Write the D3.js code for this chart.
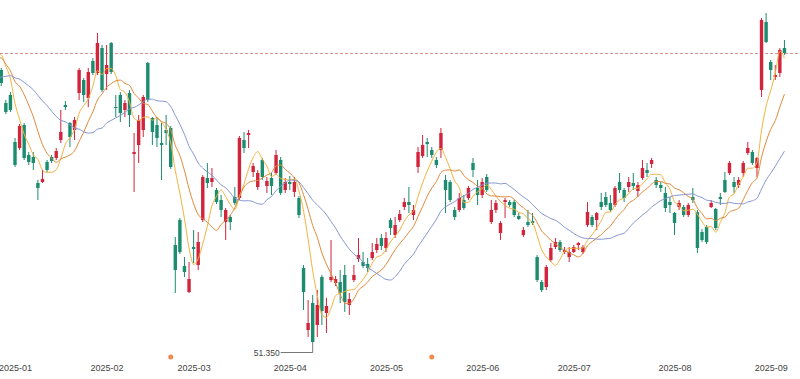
<!DOCTYPE html>
<html><head><meta charset="utf-8">
<script src="https://cdn.jsdelivr.net/npm/d3@7"></script>
<style>html,body{margin:0;padding:0;background:#fff}svg{display:block}</style>
</head><body>
<svg id="chart" width="800" height="379"></svg>
<script>
// Closes before the visible window (used only for moving averages)
const leadDates = ["2024-11-27","2024-11-29","2024-12-02","2024-12-03","2024-12-04","2024-12-05","2024-12-06","2024-12-09","2024-12-10","2024-12-11","2024-12-12","2024-12-13","2024-12-16","2024-12-17","2024-12-18","2024-12-19","2024-12-20","2024-12-23","2024-12-24","2024-12-26"];
const leadCloses = [73.15,73.15,73.15,73.65,75.65,76.15,76.65,77.15,78.15,78.65,78.15,80.65,81.15,80.15,77.65,78.15,80.15,80.85,81.45,80.95];

const dates = ["2024-12-27","2024-12-30","2024-12-31",
"2025-01-02","2025-01-03","2025-01-06","2025-01-07","2025-01-08","2025-01-10","2025-01-13","2025-01-14","2025-01-15","2025-01-16","2025-01-17","2025-01-21","2025-01-22","2025-01-23","2025-01-24","2025-01-27","2025-01-28","2025-01-29","2025-01-30","2025-01-31",
"2025-02-03","2025-02-04","2025-02-05","2025-02-06","2025-02-07","2025-02-10","2025-02-11","2025-02-12","2025-02-13","2025-02-14","2025-02-18","2025-02-19","2025-02-20","2025-02-21","2025-02-24","2025-02-25","2025-02-26","2025-02-27","2025-02-28",
"2025-03-03","2025-03-04","2025-03-05","2025-03-06","2025-03-07","2025-03-10","2025-03-11","2025-03-12","2025-03-13","2025-03-14","2025-03-17","2025-03-18","2025-03-19","2025-03-20","2025-03-21","2025-03-24","2025-03-25","2025-03-26","2025-03-27","2025-03-28","2025-03-31",
"2025-04-01","2025-04-02","2025-04-03","2025-04-04","2025-04-07","2025-04-08","2025-04-09","2025-04-10","2025-04-11","2025-04-14","2025-04-15","2025-04-16","2025-04-17","2025-04-21","2025-04-22","2025-04-23","2025-04-24","2025-04-25","2025-04-28","2025-04-29","2025-04-30",
"2025-05-01","2025-05-02","2025-05-05","2025-05-06","2025-05-07","2025-05-08","2025-05-09","2025-05-12","2025-05-13","2025-05-14","2025-05-15","2025-05-16","2025-05-19","2025-05-20","2025-05-21","2025-05-22","2025-05-23","2025-05-27","2025-05-28","2025-05-29","2025-05-30",
"2025-06-02","2025-06-03","2025-06-04","2025-06-05","2025-06-06","2025-06-09","2025-06-10","2025-06-11","2025-06-12","2025-06-13","2025-06-16","2025-06-17","2025-06-18","2025-06-20","2025-06-23","2025-06-24","2025-06-25","2025-06-26","2025-06-27","2025-06-30",
"2025-07-01","2025-07-02","2025-07-03","2025-07-07","2025-07-08","2025-07-09","2025-07-10","2025-07-11","2025-07-14","2025-07-15","2025-07-16","2025-07-17","2025-07-18","2025-07-21","2025-07-22","2025-07-23","2025-07-24","2025-07-25","2025-07-28","2025-07-29","2025-07-30","2025-07-31",
"2025-08-01","2025-08-04","2025-08-05","2025-08-06","2025-08-07","2025-08-08","2025-08-11","2025-08-12","2025-08-13","2025-08-14","2025-08-15","2025-08-18","2025-08-19","2025-08-20","2025-08-21","2025-08-22","2025-08-25","2025-08-26","2025-08-27","2025-08-28","2025-08-29",
"2025-09-02","2025-09-03","2025-09-04","2025-09-05"];

const opens = [78.65,75.35,76.15,71.45,70.85,73.15,70.15,69.95,67.35,67.45,
69.45,69.95,69.85,71.65,75.15,73.35,72.65,76.35,77.65,75.85,
79.55,78.35,80.85,78.25,81.35,74.95,76.15,74.65,76.35,70.25,
71.15,72.65,79.35,73.85,73.15,71.35,72.65,72.85,61.15,63.65,
59.05,56.45,60.95,59.15,63.65,67.85,67.45,66.65,65.65,63.45,
63.95,65.95,65.85,71.65,72.15,68.45,66.95,69.65,67.05,67.85,
68.35,69.65,66.65,67.45,66.45,65.85,58.85,52.65,55.35,53.15,
57.95,54.35,57.65,57.35,57.45,58.15,55.15,57.65,59.75,59.45,
59.25,59.85,60.65,61.85,60.85,63.65,62.15,63.65,64.95,65.45,
64.15,68.95,70.05,71.45,70.65,69.65,70.65,67.65,67.45,64.65,
64.65,65.65,65.85,69.35,66.85,66.15,67.95,63.45,64.65,62.35,
65.45,65.45,65.45,64.05,62.15,63.45,63.55,59.95,57.45,56.95,
59.65,60.95,61.45,60.45,59.95,60.45,61.15,60.45,63.15,63.95,
63.65,65.45,65.95,65.35,65.15,67.45,66.65,66.95,67.35,66.55,
67.85,68.65,69.25,67.65,67.15,66.35,65.45,64.35,64.95,64.95,
64.15,65.95,64.45,62.45,62.95,64.95,64.75,65.95,67.65,68.35,
67.45,67.15,68.35,70.35,70.45,68.85,76.65,83.45,79.45,77.95,
78.35,80.85];

const closes = [77.35,74.45,74.65,69.15,73.05,69.85,69.45,69.35,66.85,67.75,
68.65,69.55,70.55,72.45,74.95,71.95,73.65,78.65,76.15,78.45,
78.35,81.35,76.65,79.15,78.45,74.85,74.35,75.35,74.15,70.45,
73.65,75.95,75.65,72.45,71.85,71.15,72.35,68.95,58.65,60.45,
58.45,57.75,60.75,61.45,67.95,67.35,67.85,65.45,64.65,64.65,
63.45,65.35,71.85,70.85,72.35,69.05,68.35,67.95,67.55,67.05,
70.15,66.35,67.45,67.25,67.45,64.15,56.45,53.35,51.45,55.15,
54.55,55.05,57.95,57.75,56.35,55.45,55.75,58.15,60.15,59.05,
58.85,60.45,61.25,61.05,61.85,62.85,63.15,64.25,65.45,65.15,
64.65,70.45,71.15,71.25,70.15,69.15,72.35,66.65,65.65,63.95,
65.85,64.85,66.85,68.65,66.15,67.45,66.65,64.65,65.35,63.35,
65.65,65.15,64.15,63.75,62.65,63.15,63.35,57.65,56.65,58.95,
60.85,61.45,60.65,60.65,60.45,60.95,61.35,60.95,64.45,63.15,
64.35,64.95,65.15,64.65,66.85,66.65,65.85,67.45,67.05,67.15,
68.85,68.35,69.65,67.15,66.85,64.85,65.15,63.35,65.35,64.15,
65.15,65.65,60.85,61.65,61.45,65.35,62.85,65.75,66.45,69.35,
66.95,67.65,69.35,70.85,69.35,69.85,83.65,81.45,78.65,78.15,
80.65,80.35];

const highs = [78.85,75.65,76.45,71.85,73.25,73.35,70.45,70.45,67.65,68.65,
69.65,70.15,70.85,74.65,75.55,73.45,73.95,78.85,77.85,78.85,
79.85,82.35,81.15,81.15,81.45,76.15,76.45,75.65,76.65,72.35,
74.15,76.15,79.45,73.95,73.85,73.35,74.15,73.05,61.95,63.85,
59.95,59.45,62.65,62.45,68.15,69.35,68.85,66.85,66.15,64.85,
64.15,66.95,72.05,72.45,72.65,69.35,68.65,69.85,67.95,68.35,
70.65,69.95,67.85,68.05,67.95,66.05,59.15,55.65,56.15,56.65,
58.15,55.85,61.65,58.05,58.65,59.15,56.35,59.15,61.85,60.45,
59.85,61.35,61.85,62.25,62.45,63.85,63.95,64.65,65.85,66.95,
65.15,70.95,72.15,71.85,70.95,69.95,72.85,68.15,67.65,64.95,
66.35,66.15,67.05,69.85,67.65,67.85,68.25,65.65,65.65,63.55,
65.85,65.65,65.65,64.35,62.95,64.65,64.35,60.15,57.65,59.15,
61.35,61.85,61.65,60.95,60.95,61.15,61.45,61.15,65.45,64.15,
64.45,66.35,66.45,66.15,67.05,68.35,66.85,67.95,68.35,67.45,
69.65,69.35,69.85,67.95,67.45,66.95,65.95,64.45,65.65,65.15,
65.35,66.85,64.65,62.75,63.15,65.65,64.85,66.35,68.45,69.55,
67.95,67.95,69.55,71.45,70.65,69.95,83.85,84.35,79.65,79.15,
80.85,81.65];

const lows = [77.05,74.25,74.45,68.95,70.65,69.65,69.15,68.65,65.65,67.35,
68.45,69.35,69.65,71.35,74.65,70.95,71.65,75.65,75.45,74.95,
78.15,78.15,76.45,76.65,78.25,73.95,73.45,73.95,72.95,66.45,
69.35,71.95,75.45,71.15,70.95,67.65,71.15,68.75,56.35,60.25,
57.95,56.35,59.35,58.65,63.45,66.85,66.95,65.25,63.95,61.65,
62.65,65.15,65.65,70.35,70.85,67.95,66.65,67.65,66.35,66.15,
68.15,66.15,66.35,66.65,65.95,63.85,54.65,51.95,51.35,51.95,
53.15,52.35,57.45,57.05,55.35,54.45,54.15,57.45,59.45,58.85,
58.45,59.65,60.35,60.65,60.45,62.15,61.85,63.45,64.65,64.35,
63.65,68.35,69.85,69.95,69.85,68.85,69.85,64.35,65.45,63.65,
64.45,64.65,65.65,67.95,65.15,65.85,66.45,63.25,64.35,61.65,
63.85,64.95,63.95,63.65,61.95,62.95,63.15,57.45,56.45,56.65,
59.45,60.75,60.45,60.25,59.45,60.35,60.65,60.25,62.95,62.95,
62.65,64.65,64.95,64.45,64.95,66.35,65.45,66.45,66.65,65.95,
67.65,67.95,68.85,66.85,66.45,64.45,64.35,62.15,64.65,63.95,
63.95,65.35,60.35,61.45,61.25,64.85,62.65,65.15,66.35,68.15,
66.35,66.85,67.95,70.15,69.15,67.95,75.95,81.35,77.65,77.65,
77.95,80.15];

const maPeriods = [5, 10, 20];
const maColors = ["#f3b33f", "#e0893a", "#8597d2"];
const tickDates = ["2025-01-02","2025-02-03","2025-03-03","2025-04-01","2025-05-01","2025-06-02","2025-07-01","2025-08-01","2025-09-02"];
const tickLabels = ["2025-01","2025-02","2025-03","2025-04","2025-05","2025-06","2025-07","2025-08","2025-09"];
const eventDates = ["2025-02-24","2025-05-15"];

const W = 800, H = 379;
const svg = d3.select("#chart");
const allDates = leadDates.concat(dates);
const allCloses = leadCloses.concat(closes);
const lead = leadDates.length;
const step = 4.58;
const firstX = 1.26;
const x = d3.scalePoint().domain(allDates)
  .range([firstX - lead * step, firstX + (dates.length - 1) * step]);
const y = d3.scaleLinear().domain([51.35, 85.65]).range([343, 0]);

const upColor = "#d2243b", downColor = "#1b8c6d";

svg.append("defs").append("clipPath").attr("id", "clip")
  .append("rect").attr("x", 0).attr("y", 0).attr("width", W).attr("height", 362);
const plot = svg.append("g").attr("clip-path", "url(#clip)");

// latest close dashed line
const lastClose = closes[closes.length - 1];
plot.append("line").attr("x1", 0).attr("x2", W)
  .attr("y1", Math.round(y(lastClose)) + 0.5).attr("y2", Math.round(y(lastClose)) + 0.5)
  .attr("stroke", "#d99494").attr("stroke-width", 1).attr("stroke-dasharray", "3,2");

// candles
const data = dates.map((d, i) => ({d, o: opens[i], c: closes[i], h: highs[i], l: lows[i]}));
const bw = 3.4;
const cg = plot.append("g");
data.forEach(k => {
  const col = k.c >= k.o ? upColor : downColor;
  const cx = x(k.d);
  cg.append("line").attr("x1", cx).attr("x2", cx).attr("y1", y(k.h)).attr("y2", y(k.l))
    .attr("stroke", col).attr("stroke-width", 1);
  const top = y(Math.max(k.o, k.c)), bot = y(Math.min(k.o, k.c));
  cg.append("rect").attr("x", cx - bw / 2).attr("y", top).attr("width", bw)
    .attr("height", Math.max(1, bot - top)).attr("fill", col);
});

// moving averages
maPeriods.forEach((p, j) => {
  const pts = [];
  for (let k = p - 1; k < allCloses.length; k++) {
    if (k < lead - 1) continue;
    const m = d3.mean(allCloses.slice(k - p + 1, k + 1));
    pts.push([x(allDates[k]), y(m)]);
  }
  plot.append("path").attr("d", d3.line().curve(d3.curveMonotoneX)(pts))
    .attr("fill", "none").attr("stroke", maColors[j]).attr("stroke-width", 1);
});

// lowest point annotation
let minI = 0;
lows.forEach((v, i) => { if (v < lows[minI]) minI = i; });
const mx = x(dates[minI]), my = y(lows[minI]);
const annY = my + 9.5;
svg.append("path").attr("d", `M${mx},${my} V${annY} H${mx - 32}`)
  .attr("fill", "none").attr("stroke", "#555").attr("stroke-width", 0.8);
svg.append("text").attr("x", mx - 33).attr("y", annY + 3).attr("text-anchor", "end")
  .attr("font-family", "Liberation Sans, Arial, sans-serif").attr("font-size", 8.5)
  .attr("fill", "#444").text(lows[minI].toFixed(3));

// event markers
eventDates.forEach(d => {
  svg.append("circle").attr("cx", x(d)).attr("cy", 357).attr("r", 2.5).attr("fill", "#f08a4c");
});

// x axis labels
const xAxis = d3.axisBottom(x).tickValues(tickDates)
  .tickFormat((d, i) => tickLabels[i]).tickSize(0).tickPadding(0);
const ax = svg.append("g").attr("transform", "translate(0,365)").call(xAxis);
ax.select(".domain").remove();
ax.selectAll("text").attr("font-family", "Liberation Sans, Arial, sans-serif")
  .attr("font-size", 9).attr("fill", "#444");
</script>
</body></html>
